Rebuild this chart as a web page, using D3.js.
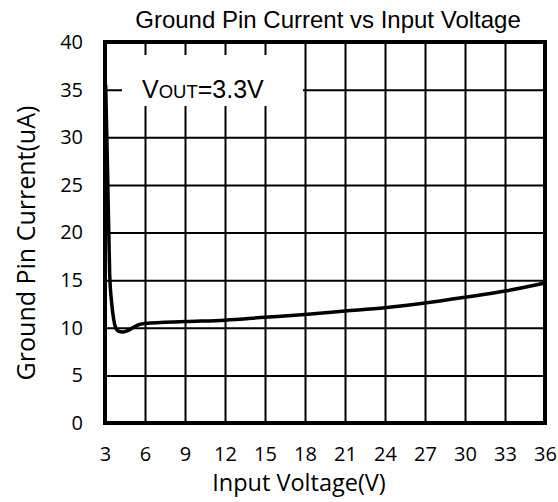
<!DOCTYPE html>
<html>
<head>
<meta charset="utf-8">
<script src="https://cdn.jsdelivr.net/npm/d3@7"></script>
<style>
  body { margin: 0; background: #fff; }
  svg { display: block; }
  .tick text { font-family: "Open Sans", sans-serif; font-size: 20px; fill: #000; }
</style>
</head>
<body>
<svg class="chart" width="558" height="502"></svg>
<script>
const voltage = [3.05, 3.2, 3.35, 3.5, 3.65, 3.8, 4.0, 4.3, 4.7, 5.2, 5.6, 6, 9, 12, 15, 18, 21, 24, 27, 30, 33, 36];
const current = [35.5, 26, 15.7, 12.6, 10.9, 10.0, 9.65, 9.55, 9.7, 10.1, 10.35, 10.45, 10.65, 10.8, 11.1, 11.4, 11.75, 12.1, 12.6, 13.2, 13.85, 14.7];
const xTicks = [3, 6, 9, 12, 15, 18, 21, 24, 27, 30, 33, 36];
const yTicks = [0, 5, 10, 15, 20, 25, 30, 35, 40];

const margin = {top: 42, right: 13, bottom: 79, left: 105};
const width = 558 - margin.left - margin.right;
const height = 502 - margin.top - margin.bottom;

const x = d3.scaleLinear().domain([3, 36]).range([0, width]);
const y = d3.scaleLinear().domain([0, 40]).range([height, 0]);

const svg = d3.select(".chart");
const chart = svg.append("g")
  .attr("transform", "translate(" + margin.left + "," + margin.top + ")");

// grid
chart.append("g")
  .call(d3.axisBottom(x).tickValues(xTicks).tickSize(-height).tickFormat(""))
  .attr("transform", "translate(0," + height + ")")
  .call(g => g.select(".domain").remove())
  .selectAll("line").attr("stroke", "#000").attr("stroke-width", 2);

chart.append("g")
  .call(d3.axisLeft(y).tickValues(yTicks).tickSize(-width).tickFormat(""))
  .call(g => g.select(".domain").remove())
  .selectAll("line").attr("stroke", "#000").attr("stroke-width", 2);

// label box covering the grid
chart.append("rect")
  .attr("x", 17).attr("y", 13)
  .attr("width", 181).attr("height", 51)
  .attr("fill", "#fff");

const label = chart.append("text")
  .attr("x", 37).attr("y", 56)
  .style("font-family", "Arial, 'Liberation Sans', sans-serif")
  .style("font-size", "25px");
label.append("tspan").text("V");
label.append("tspan").style("font-size", "18.5px").text("OUT");
label.append("tspan").text("=3.3V");

// curve
const line = d3.line()
  .x((d, i) => x(voltage[i]))
  .y(d => y(d))
  .curve(d3.curveMonotoneX);

chart.append("path")
  .datum(current)
  .attr("fill", "none")
  .attr("stroke", "#000")
  .attr("stroke-width", 3.5)
  .attr("stroke-linejoin", "round")
  .attr("d", line);

// frame
chart.append("rect")
  .attr("width", width).attr("height", height)
  .attr("fill", "none")
  .attr("stroke", "#000")
  .attr("stroke-width", 4);

// axes labels
chart.append("g")
  .attr("transform", "translate(0," + height + ")")
  .call(d3.axisBottom(x).tickValues(xTicks).tickSize(0).tickPadding(24))
  .call(g => g.select(".domain").remove());

chart.append("g")
  .call(d3.axisLeft(y).tickValues(yTicks).tickSize(0).tickPadding(22))
  .call(g => g.select(".domain").remove());

// title
svg.append("text")
  .attr("x", 328).attr("y", 28)
  .style("text-anchor", "middle")
  .style("font-family", "Arial, 'Liberation Sans', sans-serif")
  .style("font-size", "24px")
  .text("Ground Pin Current vs Input Voltage");

// x axis title
svg.append("text")
  .attr("x", 299).attr("y", 491)
  .style("text-anchor", "middle")
  .style("font-family", "'Open Sans', sans-serif")
  .style("font-size", "23.5px")
  .text("Input Voltage(V)");

// y axis title
svg.append("text")
  .attr("transform", "rotate(-90)")
  .attr("x", -243).attr("y", 35)
  .style("text-anchor", "middle")
  .style("font-family", "'Open Sans', sans-serif")
  .style("font-size", "25px")
  .text("Ground Pin Current(uA)");
</script>
</body>
</html>
